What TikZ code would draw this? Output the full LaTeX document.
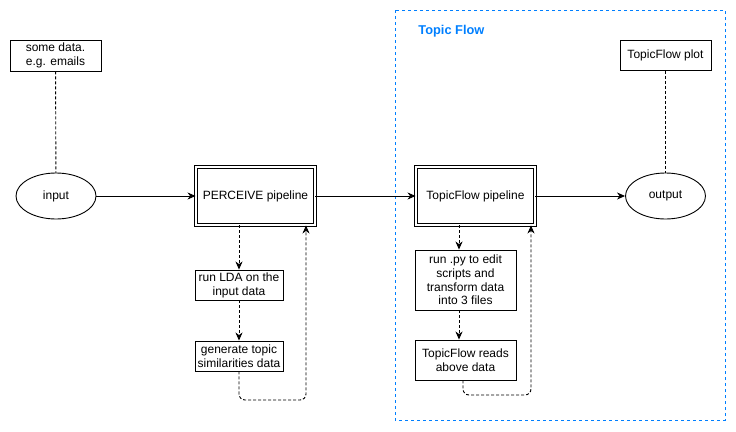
\documentclass[tikz,border=0pt]{standalone}
\usepackage{fontspec}
\setmainfont{Liberation Sans}
\usetikzlibrary{arrows.meta,shapes.geometric}
\definecolor{flowblue}{RGB}{0,127,255}
\begin{document}
\begin{tikzpicture}[x=1pt,y=-1pt,line width=0.9pt,
    every node/.style={font=\fontsize{12}{13.8}\selectfont,align=center,inner sep=1pt},
    plainbox/.style={draw,rectangle},
    pipebox/.style={draw,rectangle,double,double distance=1.3pt,minimum width=119pt,minimum height=58pt},
    endpoint/.style={draw,ellipse,minimum width=80pt,minimum height=46pt},
    flowarrow/.style={-{Stealth[length=8pt,width=7pt,inset=2.5pt]}},
    dasharrow/.style={dash pattern=on 3pt off 2pt,-{Stealth[length=8pt,width=7pt,inset=2.5pt]}},
    dotline/.style={dash pattern=on 3pt off 2pt}]
    \useasboundingbox (0,0) rectangle (736,431);

    % 分组框
    \draw[flowblue,dash pattern=on 3pt off 3pt] (395,10) rectangle (725,420);
    \node[anchor=west,text=flowblue,font=\fontsize{12.8}{14}\selectfont\bfseries] (group) at (417,31) {Topic Flow};

    % 主流程
    \node[plainbox,minimum width=91pt,minimum height=31pt] (data) at (55.5,55.5) {some data.\\e.g. emails};
    \node[endpoint] (input) at (56,196) {input};
    \node[pipebox] (perceive) at (255.5,196) {PERCEIVE pipeline};
    \node[pipebox] (pipeline) at (475.5,196) {TopicFlow pipeline};
    \node[endpoint] (output) at (665.5,196) {output};
    \node[plainbox,minimum width=91pt,minimum height=30pt] (plot) at (665.5,55.5) {TopicFlow plot};

    \draw[dotline] (data) -- (input);
    \draw[dotline] (plot) -- (output);
    \draw[flowarrow] (input) -- (perceive);
    \draw[flowarrow] (perceive) -- (pipeline);
    \draw[flowarrow] (pipeline) -- (output);

    % PERCEIVE 子步骤
    \node[plainbox,minimum width=88pt,minimum height=30pt] (lda) at (239,285) {run LDA on the\\input data};
    \node[plainbox,minimum width=88pt,minimum height=30pt] (simdata) at (239,356) {generate topic\\similarities data};
    \coordinate (backA) at (306,400);

    \draw[dasharrow] (lda.north |- perceive.south) -- (lda.north);
    \draw[dasharrow] (lda) -- (simdata);
    \draw[dasharrow,rounded corners=6pt] (simdata.south) |- (backA) -- (backA |- perceive.south);

    % TopicFlow 子步骤
    \node[plainbox,minimum width=101pt,minimum height=60pt] (runpy) at (465.5,280) {run .py to edit\\scripts and\\transform data\\into 3 files};
    \node[plainbox,minimum width=101pt,minimum height=40pt] (reads) at (465.5,360) {TopicFlow reads\\above data};
    \coordinate (backB) at (531,395);

    \draw[dasharrow] ([xshift=-6.5pt]runpy.north |- pipeline.south) -- ([xshift=-6.5pt]runpy.north);
    \draw[dasharrow] ([xshift=-6.5pt]runpy.south) -- ([xshift=-6.5pt]reads.north);
    \draw[dasharrow,rounded corners=6pt] ([xshift=-2.5pt]reads.south) |- (backB) -- (backB |- pipeline.south);

\end{tikzpicture}
\end{document}
